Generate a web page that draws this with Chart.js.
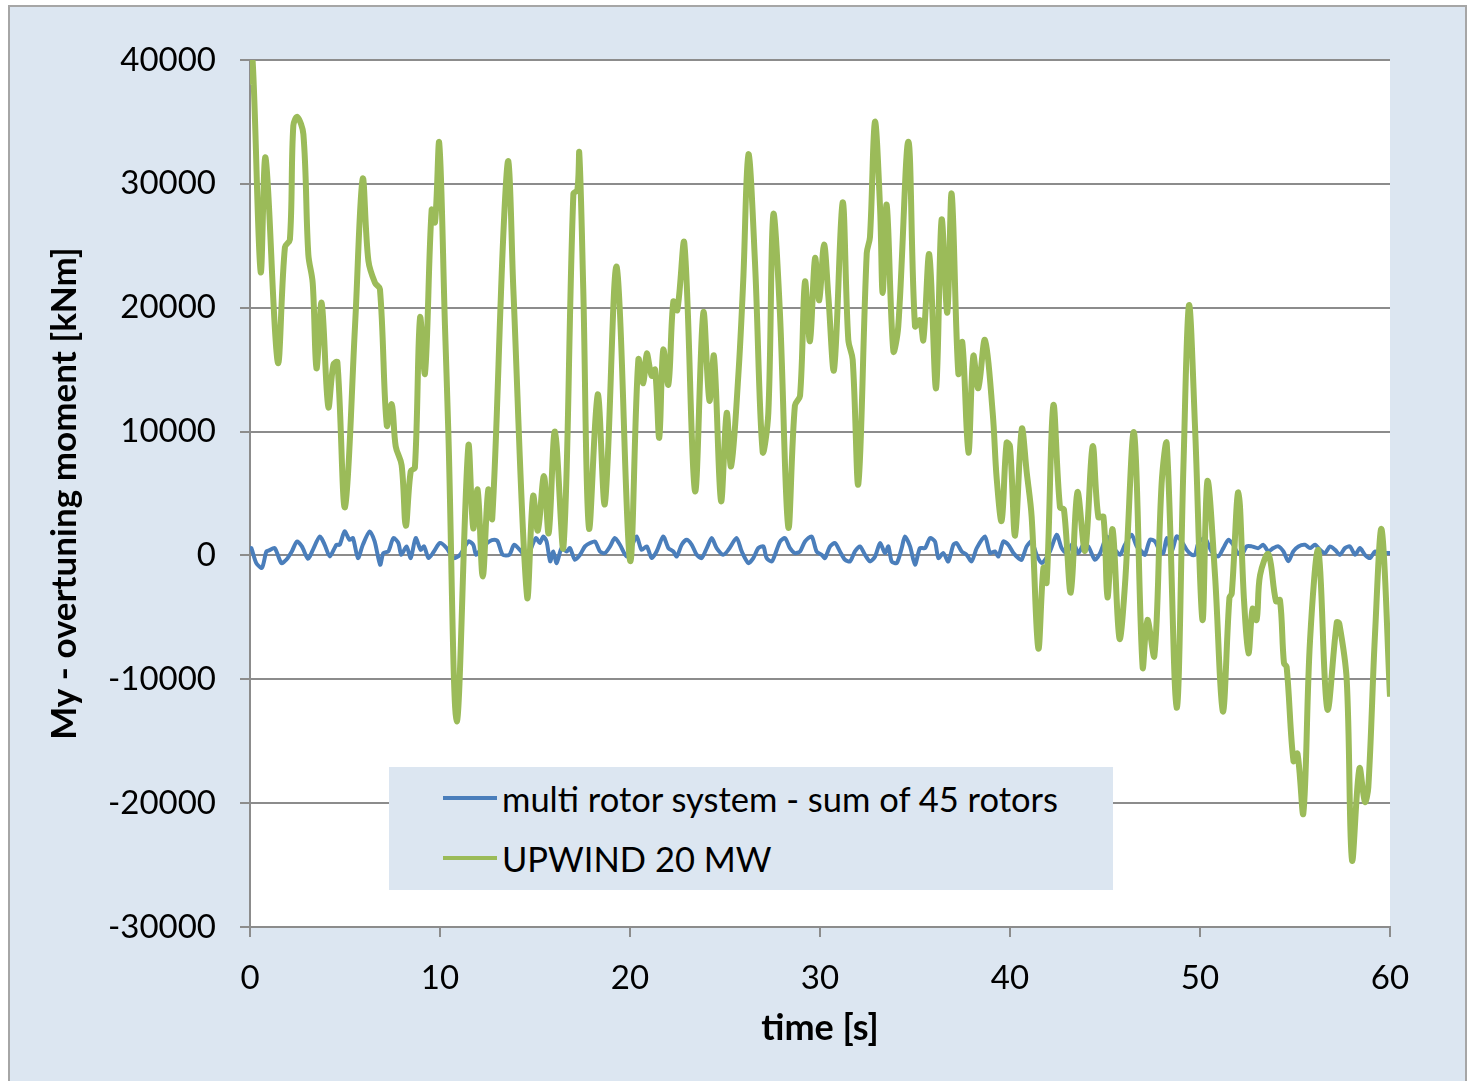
<!DOCTYPE html>
<html>
<head>
<meta charset="utf-8">
<script src="https://cdn.jsdelivr.net/npm/chart.js@4.4.1/dist/chart.umd.min.js"></script>
<style>
  html, body { margin: 0; padding: 0; background: #ffffff; }
  #frame {
    position: absolute; left: 8px; top: 5px; width: 1455px; height: 1090px;
    background: #dce6f1; border: 2px solid #a6a6a6;
  }
  #chart { position: absolute; left: 0; top: 0; }
  #legend {
    position: absolute; left: 389px; top: 767px; width: 724px; height: 123px;
    background: #dce6f1; font-family: Lato, "DejaVu Sans", sans-serif; font-size: 34.5px; color: #000;
  }
  .row { position: absolute; left: 54px; height: 40px; display: flex; align-items: center; }
  .swatch { width: 54px; height: 4px; margin-right: 5px; }
</style>
</head>
<body>
<div id="frame"></div>
<canvas id="chart" width="1471" height="1081"></canvas>
<div id="legend">
  <div class="row" style="top: 11px;"><span class="swatch" style="background:#4a7ebb"></span>multi rotor system - sum of 45 rotors</div>
  <div class="row" style="top: 71px;"><span class="swatch" style="background:#9bbb59"></span>UPWIND 20 MW</div>
</div>
<script>
// UPWIND 20 MW turbine, time [s] and moment [kNm]
const upwindTime = [
  0.0, 0.14, 0.56, 0.82, 1.46, 1.84, 2.1, 2.28, 2.49, 2.81, 3.07, 3.3, 3.5, 3.77, 4.12, 4.39, 4.6, 5.0,
  5.53, 5.93, 6.23, 6.58, 6.84, 7.2, 7.46, 7.67, 7.98, 8.2, 8.46, 8.68, 8.95, 9.21, 9.56, 9.74, 9.96,
  10.26, 10.44, 10.88, 11.49, 11.75, 11.98, 12.25, 12.54, 12.75, 13.33, 13.6, 13.86, 14.58, 14.9, 15.15,
  15.47, 15.72, 16.05, 16.5, 17.02, 17.23, 17.33, 17.54, 17.84, 18.3, 18.68, 19.3, 20.0, 20.44, 20.7,
  20.88, 21.14, 21.32, 21.54, 21.75, 22.02, 22.28, 22.49, 22.86, 23.42, 23.86, 24.18, 24.42, 24.79,
  25.09, 25.32, 25.7, 25.96, 26.23, 26.58, 26.98, 27.28, 27.54, 27.89, 28.33, 28.68, 28.95, 29.21,
  29.47, 29.74, 29.96, 30.21, 30.44, 30.74, 31.19, 31.49, 31.72, 32.02, 32.46, 32.63, 32.89, 33.16,
  33.3, 33.51, 33.86, 34.12, 34.65, 35.0, 35.26, 35.44, 35.75, 36.11, 36.4, 36.7, 36.93, 37.28, 37.49,
  37.81, 38.07, 38.33, 38.68, 39.09, 39.3, 39.56, 39.82, 40.0, 40.27, 40.62, 40.88, 41.14, 41.49,
  41.76, 41.93, 42.28, 42.63, 42.84, 43.2, 43.55, 43.95, 44.35, 44.65, 44.92, 45.13, 45.4, 45.76,
  46.05, 46.53, 46.98, 47.23, 47.6, 47.98, 48.25, 48.77, 49.13, 49.42, 49.74, 50.13, 50.39, 50.79,
  51.2, 51.55, 51.67, 52.02, 52.32, 52.55, 52.77, 52.98, 53.16, 53.6, 54.0, 54.21, 54.42, 54.56,
  54.92, 55.13, 55.44, 55.79, 56.23, 56.7, 57.2, 57.33, 57.72, 58.0, 58.39, 58.68, 58.86, 59.21,
  59.56, 60.0
];
const upwindMoment = [
  38000, 39900, 22900, 32100, 15600, 24900, 25500, 34700, 35400, 34000, 24300, 22000, 15100, 20400, 12000, 15400, 15600, 3900,
  18600, 30400, 23800, 22000, 21500, 10500, 12200, 8800, 7300, 2400, 6800, 7100, 19200, 14700, 27900, 26900, 33300,
  18600, 9900, -13400, 8800, 2200, 5300, -1700, 5300, 3000, 25800, 31800, 21500, -3300, 4800, 2000,
  6400, 1800, 10000, 700, 29200, 29500, 32500, 21500, 2200, 13000, 4200, 23300, -400, 15800, 13900,
  16300, 14500, 15000, 9500, 16600, 13800, 20500, 19800, 25200, 5200, 19600, 12500, 16100, 4400,
  11500, 7200, 14500, 22200, 32400, 23600, 8400, 11500, 27500, 19600, 2300, 12100, 12900, 22100,
  17300, 24000, 20600, 25100, 20900, 15000, 28500, 17400, 15800, 5800, 24400, 25700, 35000, 28100,
  21200, 28300, 16500, 18500, 33400, 18500, 19000, 17400, 24300, 13500, 27100, 19600, 29200, 14700, 17200,
  8300, 16100, 13500, 17400, 11500, 6200, 2800, 9100, 8800, 1600, 10200, 6700, 3100, -7500,
  -1000, -2200, 12100, 3900, 3700, -3000, 5100, 400, 8800, 3100, 3100, -3400, 2100, -6700,
  -2400, 9900, -9000, -5200, -8100, 5800, 9000, -12300, 7300, 20200, 10300, -5200, 6000, -1600,
  -12600, -3400, -3100, 5100, -3700, -7900, -4300, -5200, -1600, 100, -3700, -3600, -8700, -9000,
  -16600, -16000, -20800, -6900, 400, -12400, -5400, -5500, -10000, -24600, -17200, -19900, -18700, -6400,
  2100, -11400
];

// multi rotor system - sum of 45 rotors
const multiTime = [
  0.0, 0.07, 0.33, 0.63, 0.86, 1.0, 1.3, 1.65, 1.91, 2.2, 2.47, 2.73, 3.05, 3.31, 3.67, 3.93, 4.2, 4.55,
  4.72, 4.98, 5.24, 5.42, 5.68, 5.94, 6.3, 6.56, 6.85, 7.02, 7.28, 7.55, 7.81, 7.96, 8.24, 8.46, 8.72,
  8.98, 9.16, 9.4, 9.68, 10.0, 10.35, 10.7, 11.05, 11.5, 11.75, 11.9, 12.2, 12.6, 12.86, 13.04, 13.3,
  13.65, 13.9, 14.2, 14.6, 14.8, 15.05, 15.25, 15.44, 15.61, 15.8, 15.96, 16.14, 16.4, 16.67, 16.84,
  17.1, 17.37, 17.63, 17.9, 18.16, 18.42, 18.68, 18.95, 19.2, 19.47, 19.82, 20.09, 20.35, 20.61, 20.88,
  21.14, 21.4, 21.75, 22.02, 22.28, 22.46, 22.72, 22.98, 23.25, 23.51, 23.77, 24.04, 24.3, 24.56, 24.91,
  25.18, 25.61, 25.88, 26.23, 26.49, 26.75, 27.02, 27.19, 27.46, 27.63, 27.9, 28.16, 28.42, 28.68, 28.95,
  29.21, 29.56, 29.82, 30.09, 30.26, 30.53, 30.79, 31.05, 31.32, 31.58, 31.84, 32.1, 32.37, 32.63, 32.9,
  33.16, 33.42, 33.6, 33.77, 34.04, 34.3, 34.47, 34.74, 35.0, 35.26, 35.53, 35.79, 36.05, 36.23, 36.49,
  36.75, 37.02, 37.19, 37.46, 37.72, 37.98, 38.25, 38.68, 38.95, 39.21, 39.39, 39.65, 39.91, 40.18, 40.44,
  40.61, 40.88, 41.14, 41.4, 41.67, 42.1, 42.46, 42.72, 42.98, 43.33, 43.6, 43.86, 44.12, 44.47, 44.74,
  45.09, 45.26, 45.53, 45.79, 46.05, 46.4, 46.67, 46.93, 47.1, 47.37, 47.63, 47.89, 48.07, 48.25, 48.51,
  48.77, 49.04, 49.3, 49.56, 49.74, 49.91, 50.26, 50.61, 50.96, 51.23, 51.49, 51.75, 51.93, 52.19, 52.46,
  52.72, 53.07, 53.33, 53.6, 53.86, 54.12, 54.39, 54.65, 54.91, 55.18, 55.53, 55.79, 56.05, 56.32, 56.58,
  56.84, 57.11, 57.37, 57.63, 57.89, 58.16, 58.42, 58.68, 58.95, 59.21, 59.47, 59.74, 60.0
];
const multiMoment = [
  600, 590, -620, -1000, 320, 400, 590, -620, -350, 320, 1130, 730, -270, 450, 1530, 860, -80, 860,
  860, 1940, 1260, 1400, -215, 860, 1940, 1130, -750, 190, 320, 1400, 1000, 50, 730, -215, 1400,
  450, 730, -215, 320, 1000, 590, -215, 50, 1130, 860, 50, 590, 1130, 1260, 1130, 50,
  50, 860, 450, -215, 590, 1400, 1000, 1530, 1130, -480, 320, -620, 590, 320, 590,
  -350, 50, 730, 1000, 1130, 320, 190, 730, 1400, 860, -80, 730, 1530, 450, 730,
  -215, 320, 1530, 590, 320, -80, 860, 1260, 860, 50, -215, 590, 1400, 590, 50,
  450, 1400, 320, -620, -215, 590, 730, -215, -480, 50, 1130, 1400, 590, 190, 320,
  1130, 1530, 320, 50, -215, 730, 1000, 320, -350, -480, 320, 730, 50, -480, -80,
  1000, 190, 730, -480, -620, 590, 1530, 730, -750, 590, 590, 1400, 1130, -215, 190,
  -480, 860, 1000, 320, 50, -480, 590, 1530, 190, 320, -80, 1130, 860, 190, -215,
  -350, 730, 1130, 50, -620, 320, 1670, 590, 190, 1000, 190, 860, 730, -350, 190,
  1530, 730, 450, 50, 860, 1670, 730, 320, 50, 1260, 1130, 320, 190, 1400, 320,
  1530, 1130, 450, 50, 50, 990, 1400, 320, -80, 590, 1260, 860, 320, 50, 730,
  730, 590, 860, 320, 590, 730, 320, -480, 320, 730, 860, 590, 860, 450, 190,
  730, 450, 50, 590, 730, 50, 590, 50, -215, 320, 190, 190, 190
];

const yTicks = [-30000, -20000, -10000, 0, 10000, 20000, 30000, 40000];
const xTicks = [0, 10, 20, 30, 40, 50, 60];

const toPoints = (xs, ys) => xs.map((x, i) => ({ x: x, y: ys[i] }));

const plotBackground = {
  id: 'plotBackground',
  beforeDraw(chart) {
    const { ctx, chartArea } = chart;
    ctx.save();
    ctx.fillStyle = '#ffffff';
    ctx.fillRect(chartArea.left, chartArea.top, chartArea.right - chartArea.left, chartArea.bottom - chartArea.top);
    ctx.restore();
  }
};

const font = 'Lato, "DejaVu Sans", sans-serif';

new Chart(document.getElementById('chart'), {
  type: 'line',
  data: {
    datasets: [
      {
        label: 'UPWIND 20 MW',
        data: toPoints(upwindTime, upwindMoment),
        borderColor: '#9bbb59',
        borderWidth: 6,
        pointRadius: 0,
        tension: 0.35,
        order: 1
      },
      {
        label: 'multi rotor system - sum of 45 rotors',
        data: toPoints(multiTime, multiMoment),
        borderColor: '#4a7ebb',
        borderWidth: 4,
        pointRadius: 0,
        tension: 0.25,
        order: 2
      }
    ]
  },
  options: {
    responsive: false,
    animation: false,
    devicePixelRatio: 1,
    layout: { padding: { left: 0, top: 60, right: 81, bottom: 0 } },
    plugins: {
      legend: { display: false },
      tooltip: { enabled: false }
    },
    scales: {
      x: {
        type: 'linear',
        min: 0,
        max: 60,
        afterFit: (scale) => { scale.height = 154; },
        afterBuildTicks: (scale) => { scale.ticks = xTicks.map(v => ({ value: v })); },
        grid: { drawOnChartArea: false, drawTicks: true, tickLength: 10, color: '#8c8c8c', lineWidth: 2 },
        border: { color: '#8c8c8c', width: 2 },
        ticks: { color: '#000', padding: 22, font: { family: font, size: 33 }, callback: v => String(v) },
        title: { display: true, text: 'time [s]', color: '#000', padding: { bottom: 31 }, font: { family: font, size: 36, weight: 'bold' } }
      },
      y: {
        min: -30000,
        max: 40000,
        afterFit: (scale) => { scale.width = 250; },
        afterBuildTicks: (scale) => { scale.ticks = yTicks.map(v => ({ value: v })); },
        grid: { color: '#8c8c8c', lineWidth: 2, tickLength: 10 },
        border: { color: '#8c8c8c', width: 2 },
        ticks: { color: '#000', padding: 24, font: { family: font, size: 33 }, callback: v => String(v) },
        title: { display: true, text: 'My - overtuning moment [kNm]', color: '#000', padding: { top: 44 }, font: { family: font, size: 35, weight: 'bold' } }
      }
    }
  },
  plugins: [plotBackground]
});
</script>
</body>
</html>
